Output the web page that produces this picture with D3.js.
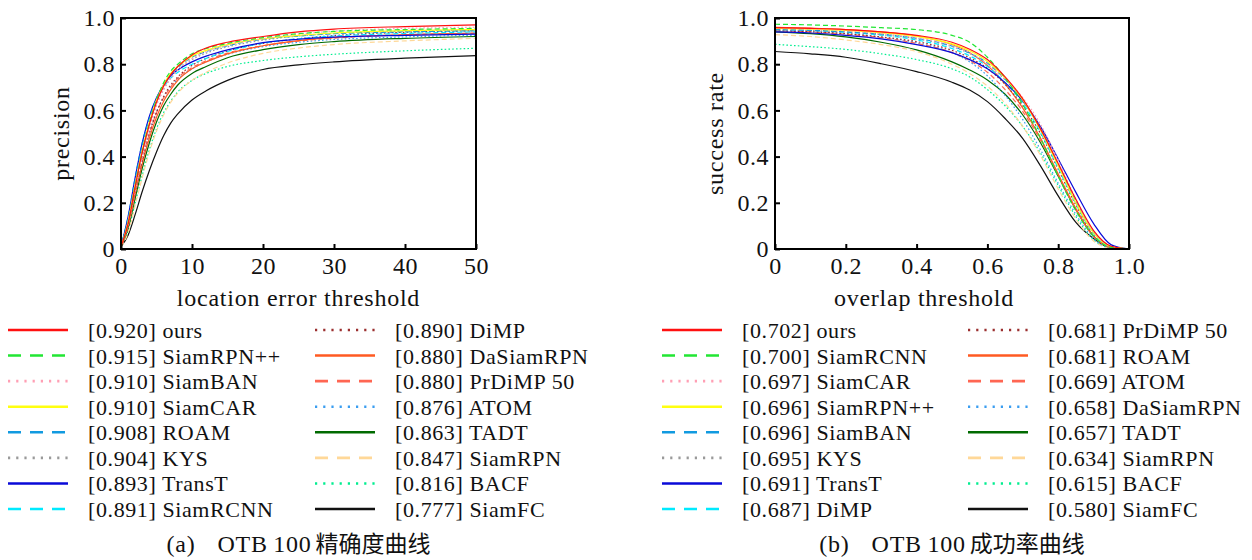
<!DOCTYPE html>
<html>
<head>
<meta charset="utf-8">
<script src="https://cdn.jsdelivr.net/npm/d3@7"></script>
<style>
  html, body { margin: 0; padding: 0; background: #fff; }
  svg { display: block; }
  text { font-family: "Liberation Serif", "Times New Roman", serif; fill: #111; }
</style>
</head>
<body>
<svg id="chart" width="1252" height="560"></svg>
<script>
// ---------- OTB100 precision plot (location error threshold) ----------
const precThresholds = [0, 1, 2, 3, 4, 5, 6, 7, 8, 10, 12, 15, 20, 25, 30, 40, 50];
const precNames  = ["ours", "SiamRPN++", "SiamBAN", "SiamCAR", "ROAM", "KYS", "TransT", "SiamRCNN",
                    "DiMP", "DaSiamRPN", "PrDiMP 50", "ATOM", "TADT", "SiamRPN", "BACF", "SiamFC"];
const precScores = [0.920, 0.915, 0.910, 0.910, 0.908, 0.904, 0.893, 0.891,
                    0.890, 0.880, 0.880, 0.876, 0.863, 0.847, 0.816, 0.777];

const pOurs      = [0.01, 0.11, 0.27, 0.42, 0.54, 0.635, 0.705, 0.755, 0.79, 0.84, 0.87, 0.895, 0.920, 0.940, 0.952, 0.963, 0.970];
const pSiamRPNpp = [0.01, 0.11, 0.27, 0.42, 0.545, 0.645, 0.72, 0.77, 0.80, 0.845, 0.868, 0.89, 0.915, 0.932, 0.942, 0.950, 0.955];
const pSiamBAN   = [0.01, 0.10, 0.25, 0.40, 0.52, 0.62, 0.69, 0.74, 0.775, 0.825, 0.855, 0.882, 0.910, 0.930, 0.943, 0.955, 0.960];
const pSiamCAR   = [0.01, 0.12, 0.28, 0.43, 0.55, 0.645, 0.71, 0.76, 0.79, 0.835, 0.86, 0.885, 0.910, 0.925, 0.935, 0.945, 0.950];
const pROAM      = [0.01, 0.13, 0.30, 0.45, 0.565, 0.65, 0.71, 0.755, 0.785, 0.83, 0.855, 0.88, 0.908, 0.922, 0.932, 0.940, 0.945];
const pKYS       = [0.01, 0.11, 0.26, 0.41, 0.53, 0.625, 0.69, 0.74, 0.775, 0.82, 0.848, 0.875, 0.904, 0.922, 0.933, 0.943, 0.948];
const pTransT    = [0.01, 0.14, 0.31, 0.46, 0.575, 0.655, 0.71, 0.75, 0.775, 0.81, 0.835, 0.862, 0.893, 0.908, 0.917, 0.925, 0.930];
const pSiamRCNN  = [0.01, 0.14, 0.31, 0.46, 0.57, 0.65, 0.70, 0.74, 0.765, 0.80, 0.825, 0.855, 0.891, 0.910, 0.922, 0.933, 0.940];
const pDiMP      = [0.01, 0.10, 0.24, 0.38, 0.50, 0.59, 0.66, 0.71, 0.745, 0.795, 0.825, 0.857, 0.890, 0.910, 0.924, 0.938, 0.945];
const pDaSiamRPN = [0.01, 0.10, 0.24, 0.37, 0.48, 0.57, 0.64, 0.69, 0.73, 0.78, 0.81, 0.845, 0.880, 0.902, 0.915, 0.928, 0.935];
const pPrDiMP50  = [0.01, 0.10, 0.25, 0.39, 0.50, 0.59, 0.655, 0.70, 0.74, 0.785, 0.815, 0.848, 0.880, 0.900, 0.913, 0.927, 0.934];
const pATOM      = [0.01, 0.11, 0.26, 0.40, 0.51, 0.595, 0.655, 0.70, 0.735, 0.78, 0.81, 0.843, 0.876, 0.895, 0.907, 0.918, 0.925];
const pTADT      = [0.01, 0.09, 0.22, 0.35, 0.46, 0.55, 0.62, 0.67, 0.71, 0.76, 0.79, 0.828, 0.863, 0.885, 0.898, 0.912, 0.920];
const pSiamRPN   = [0.01, 0.07, 0.19, 0.31, 0.42, 0.51, 0.58, 0.635, 0.675, 0.73, 0.765, 0.805, 0.847, 0.870, 0.885, 0.901, 0.912];
const pBACF      = [0.01, 0.08, 0.20, 0.32, 0.43, 0.52, 0.59, 0.64, 0.68, 0.73, 0.76, 0.79, 0.816, 0.832, 0.843, 0.858, 0.869];
const pSiamFC    = [0.01, 0.06, 0.15, 0.25, 0.34, 0.42, 0.49, 0.545, 0.585, 0.645, 0.685, 0.73, 0.777, 0.797, 0.810, 0.826, 0.837];

const precSeries = [pOurs, pSiamRPNpp, pSiamBAN, pSiamCAR, pROAM, pKYS, pTransT, pSiamRCNN,
                    pDiMP, pDaSiamRPN, pPrDiMP50, pATOM, pTADT, pSiamRPN, pBACF, pSiamFC];

// ---------- OTB100 success plot (overlap threshold) ----------
const succThresholds = [0, 0.1, 0.2, 0.3, 0.4, 0.5, 0.55, 0.6, 0.65, 0.7, 0.75, 0.8, 0.85, 0.9, 0.95, 1.0];
const succNames  = ["ours", "SiamRCNN", "SiamCAR", "SiamRPN++", "SiamBAN", "KYS", "TransT", "DiMP",
                    "PrDiMP 50", "ROAM", "ATOM", "DaSiamRPN", "TADT", "SiamRPN", "BACF", "SiamFC"];
const succScores = [0.702, 0.700, 0.697, 0.696, 0.696, 0.695, 0.691, 0.687,
                    0.681, 0.681, 0.669, 0.658, 0.657, 0.634, 0.615, 0.580];

const sOurs      = [0.958, 0.955, 0.950, 0.940, 0.925, 0.895, 0.865, 0.820, 0.745, 0.650, 0.520, 0.370, 0.215, 0.080, 0.012, 0];
const sSiamRCNN  = [0.973, 0.970, 0.965, 0.958, 0.950, 0.925, 0.895, 0.830, 0.740, 0.625, 0.480, 0.315, 0.165, 0.055, 0.007, 0];
const sSiamCAR   = [0.955, 0.952, 0.945, 0.932, 0.915, 0.880, 0.850, 0.800, 0.735, 0.655, 0.540, 0.385, 0.215, 0.075, 0.010, 0];
const sSiamRPNpp = [0.955, 0.952, 0.946, 0.936, 0.920, 0.888, 0.858, 0.812, 0.740, 0.645, 0.515, 0.360, 0.200, 0.070, 0.010, 0];
const sSiamBAN   = [0.950, 0.947, 0.940, 0.930, 0.912, 0.878, 0.848, 0.805, 0.735, 0.645, 0.520, 0.365, 0.205, 0.072, 0.010, 0];
const sKYS       = [0.950, 0.946, 0.940, 0.928, 0.910, 0.876, 0.846, 0.800, 0.732, 0.645, 0.525, 0.370, 0.210, 0.075, 0.010, 0];
const sTransT    = [0.940, 0.935, 0.925, 0.910, 0.885, 0.850, 0.820, 0.780, 0.720, 0.640, 0.530, 0.390, 0.245, 0.110, 0.018, 0];
const sDiMP      = [0.950, 0.946, 0.938, 0.926, 0.905, 0.868, 0.836, 0.790, 0.720, 0.630, 0.505, 0.350, 0.195, 0.065, 0.008, 0];
const sPrDiMP50  = [0.945, 0.940, 0.932, 0.918, 0.898, 0.860, 0.828, 0.782, 0.712, 0.620, 0.500, 0.345, 0.190, 0.062, 0.008, 0];
const sROAM      = [0.960, 0.956, 0.950, 0.940, 0.922, 0.885, 0.850, 0.795, 0.715, 0.610, 0.480, 0.325, 0.175, 0.055, 0.007, 0];
const sATOM      = [0.945, 0.940, 0.930, 0.915, 0.890, 0.850, 0.815, 0.765, 0.690, 0.595, 0.470, 0.320, 0.170, 0.055, 0.006, 0];
const sDaSiamRPN = [0.948, 0.943, 0.933, 0.917, 0.893, 0.850, 0.810, 0.750, 0.665, 0.560, 0.430, 0.285, 0.150, 0.045, 0.005, 0];
const sTADT      = [0.940, 0.932, 0.918, 0.895, 0.862, 0.810, 0.775, 0.732, 0.670, 0.580, 0.460, 0.315, 0.170, 0.055, 0.006, 0];
const sSiamRPN   = [0.928, 0.920, 0.905, 0.885, 0.855, 0.800, 0.760, 0.705, 0.630, 0.530, 0.405, 0.260, 0.130, 0.035, 0.004, 0];
const sBACF      = [0.886, 0.876, 0.864, 0.845, 0.820, 0.780, 0.745, 0.690, 0.620, 0.530, 0.415, 0.275, 0.140, 0.040, 0.004, 0];
const sSiamFC    = [0.855, 0.845, 0.830, 0.802, 0.768, 0.722, 0.688, 0.638, 0.565, 0.478, 0.360, 0.230, 0.115, 0.045, 0.004, 0];

const succSeries = [sOurs, sSiamRCNN, sSiamCAR, sSiamRPNpp, sSiamBAN, sKYS, sTransT, sDiMP,
                    sPrDiMP50, sROAM, sATOM, sDaSiamRPN, sTADT, sSiamRPN, sBACF, sSiamFC];

// ---------- tick labels ----------
const precXTicks = [0, 10, 20, 30, 40, 50];
const succXTicks = [0, 0.2, 0.4, 0.6, 0.8, 1.0];
const yTicks = [0, 0.2, 0.4, 0.6, 0.8, 1.0];

// Line style per legend rank (same in both panels)
const rankColors = ["#ff1010", "#22e633", "#ff9fb4", "#ffff10", "#119ae0", "#9a9a9a", "#0a0ad8", "#00eaff",
                    "#9b2f2f", "#ff5a22", "#ff6652", "#3a9df0", "#006a00", "#ffd898", "#00ee90", "#111111"];
const rankDash = ["solid", "dash", "dot", "solid", "dash", "dot", "solid", "dash",
                  "dot", "solid", "dash", "dot", "solid", "dash", "dot", "solid"];

const plotDash   = { solid: null, dash: "5,3", dot: "1.6,2.2" };
const legendDash = { solid: null, dash: "13,9", dot: "2.2,6" };

const svg = d3.select("#chart");
const fmtTick = v => (v === 0 ? "0" : d3.format(".1f")(v));

function drawPanel(p) {
  const x = d3.scaleLinear().domain(p.xDomain).range([p.left, p.right]);
  const y = d3.scaleLinear().domain([0, 1]).range([p.bottom, p.top]);
  const g = svg.append("g");

  // clip for curves
  const clipId = "clip-" + p.id;
  svg.append("defs").append("clipPath").attr("id", clipId)
    .append("rect").attr("x", p.left).attr("y", p.top)
    .attr("width", p.right - p.left).attr("height", p.bottom - p.top);

  // curves (draw weakest first so the leading methods stay on top)
  const line = d3.line().x((d, i) => x(p.thresholds[i])).y(d => y(d)).curve(d3.curveMonotoneX);
  const curves = g.append("g").attr("clip-path", `url(#${clipId})`);
  for (let i = p.series.length - 1; i >= 0; i--) {
    curves.append("path")
      .attr("d", line(p.series[i]))
      .attr("fill", "none")
      .attr("stroke", rankColors[i])
      .attr("stroke-width", 1.2)
      .attr("stroke-dasharray", plotDash[rankDash[i]]);
  }

  // axes with inward ticks
  const xAxis = d3.axisBottom(x).tickValues(p.xTicks).tickFormat(p.xFormat)
    .tickSizeInner(-5).tickSizeOuter(0).tickPadding(8);
  const yAxis = d3.axisLeft(y).tickValues(yTicks).tickFormat(fmtTick)
    .tickSizeInner(-5).tickSizeOuter(0).tickPadding(6);

  const gx = g.append("g").attr("transform", `translate(0,${p.bottom})`).call(xAxis);
  const gy = g.append("g").attr("transform", `translate(${p.left},0)`).call(yAxis);
  [gx, gy].forEach(a => {
    a.select(".domain").remove();
    a.selectAll(".tick line").attr("stroke", "#000").attr("stroke-width", 2);
    a.selectAll(".tick text")
      .attr("fill", "#111")
      .style("font-family", '"Liberation Serif", "Times New Roman", serif')
      .style("font-size", "24px")
      .style("letter-spacing", "0.5px");
  });

  // frame
  g.append("rect")
    .attr("x", p.left).attr("y", p.top)
    .attr("width", p.right - p.left).attr("height", p.bottom - p.top)
    .attr("fill", "none").attr("stroke", "#000").attr("stroke-width", 2);

  // axis titles
  g.append("text")
    .attr("x", p.xTitleX).attr("y", 306)
    .attr("text-anchor", "middle")
    .style("font-size", "24px").style("letter-spacing", "0.75px")
    .text(p.xTitle);
  g.append("text")
    .attr("transform", `translate(${p.left - 52},${(p.top + p.bottom) / 2}) rotate(-90)`)
    .attr("text-anchor", "middle")
    .style("font-size", "24px").style("letter-spacing", "0.75px")
    .text(p.yTitle);

  // legend: two columns of eight rows
  const rowY = d3.scaleLinear().domain([0, 7]).range([330, 509]);
  const lg = g.append("g");
  p.names.forEach((name, i) => {
    const col = Math.floor(i / 8), row = i % 8;
    const lx = p.legendCols[col];
    const yy = rowY(row);
    lg.append("line")
      .attr("x1", lx).attr("x2", lx + 60)
      .attr("y1", yy).attr("y2", yy)
      .attr("stroke", rankColors[i])
      .attr("stroke-width", 2.6)
      .attr("stroke-dasharray", legendDash[rankDash[i]]);
    lg.append("text")
      .attr("x", lx + 80).attr("y", yy + 8)
      .style("font-size", "22px").style("letter-spacing", "0.6px")
      .text(`[${d3.format(".3f")(p.scores[i])}] ${name}`);
  });

  // caption
  const cap = g.append("text")
    .attr("x", (p.left + p.right) / 2).attr("y", 552)
    .attr("text-anchor", "middle")
    .style("font-size", "24px").style("letter-spacing", "0.75px");
  cap.append("tspan").text(p.captionTag);
  cap.append("tspan").attr("dx", 22).text("OTB\u2009100");
  cap.append("tspan").attr("dx", 4)
    .style("font-family", '"Noto Sans CJK SC", sans-serif')
    .style("font-size", "23px").style("letter-spacing", "0px")
    .text(p.captionText);
}

drawPanel({
  id: "prec", left: 121, right: 476, top: 18, bottom: 249,
  xDomain: [0, 50], xTicks: precXTicks, xFormat: d3.format("d"),
  thresholds: precThresholds, series: precSeries, names: precNames, scores: precScores,
  xTitle: "location error threshold", xTitleX: 298.5, yTitle: "precision",
  legendCols: [8, 315], captionTag: "(a)", captionText: "精确度曲线"
});

drawPanel({
  id: "succ", left: 775, right: 1129, top: 18, bottom: 249,
  xDomain: [0, 1], xTicks: succXTicks, xFormat: fmtTick,
  thresholds: succThresholds, series: succSeries, names: succNames, scores: succScores,
  xTitle: "overlap threshold", xTitleX: 924, yTitle: "success rate",
  legendCols: [662, 968], captionTag: "(b)", captionText: "成功率曲线"
});
</script>
</body>
</html>
